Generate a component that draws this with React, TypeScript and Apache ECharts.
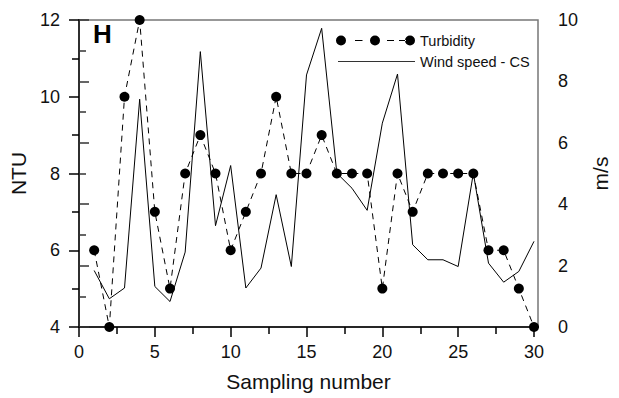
import React, { useEffect, useRef } from "react";
import * as echarts from "echarts";

const samples = [1, 2, 3, 4, 5, 6, 7, 8, 9, 10, 11, 12, 13, 14, 15, 16, 17, 18, 19, 20, 21, 22, 23, 24, 25, 26, 27, 28, 29, 30];
const turbidity = [6, 4, 10, 12, 7, 5, 8, 9, 8, 6, 7, 8, 10, 8, 8, 9, 8, 8, 8, 5, 8, 7, 8, 8, 8, 8, 6, 6, 5, 4];
const windSpeed = [1.84, 0.92, 1.27, 7.42, 1.32, 0.83, 2.44, 8.97, 3.3, 5.26, 1.27, 1.92, 4.31, 1.97, 8.21, 9.73, 5.01, 4.52, 3.8, 6.64, 8.24, 2.68, 2.19, 2.19, 1.97, 5.01, 2.08, 1.46, 1.81, 2.79];

const FONT = "Liberation Sans, Arial, sans-serif";

const circle = (cx: number) => `M${cx - 5},5a5,5 0 1,0 10,0a5,5 0 1,0 -10,0Z`;
const dash = (a: number, b: number) => `M${a},4.4H${b}V5.6H${a}Z`;
const turbIcon = "path://" + circle(5) + dash(19, 26.5) + circle(39) + dash(51, 58) + dash(63, 70) + circle(74);
const windIcon = "path://M0,4.4H74V5.6H0Z";

export default function App() {
  const ref = useRef<HTMLDivElement>(null);
  useEffect(() => {
    if (!ref.current) return;
    const chart = echarts.init(ref.current, undefined, { renderer: "svg" });
    chart.setOption({
      animation: false,
      backgroundColor: "#fff",
      textStyle: { fontFamily: FONT },
      grid: [
        {
          left: 79,
          right: 78,
          top: 20,
          bottom: 71,
          show: true,
          borderColor: "#777",
          borderWidth: 1.5,
          backgroundColor: "transparent",
        },
        {
          left: 79,
          right: 85,
          top: 20,
          bottom: 71,
          show: false,
        },
      ],
      legend: [
        {
          data: [{ name: "Turbidity", icon: turbIcon }],
          left: 336,
          top: 33,
          padding: 0,
          itemWidth: 79,
          itemHeight: 10,
          itemStyle: { color: "#000", borderWidth: 0 },
          textStyle: { fontFamily: FONT, fontSize: 14.5, color: "#111" },
          selectedMode: false,
        },
        {
          data: [{ name: "Wind speed - CS", icon: windIcon }],
          left: 338,
          top: 54,
          padding: 0,
          itemWidth: 77,
          itemHeight: 10,
          itemStyle: { color: "#333", borderWidth: 0 },
          textStyle: { fontFamily: FONT, fontSize: 14.5, color: "#111" },
          selectedMode: false,
        },
      ],
      xAxis: [
        {
          gridIndex: 0,
          type: "value",
          min: 0,
          max: 30.45,
          position: "bottom",
          name: "Sampling number",
          nameLocation: "middle",
          nameGap: 44,
          nameTextStyle: { fontFamily: FONT, fontSize: 21, color: "#111" },
          axisLine: { show: true, lineStyle: { color: "#000", width: 1.5 } },
          axisTick: { show: false },
          axisLabel: { show: false },
          splitLine: { show: false },
        },
        {
          gridIndex: 1,
          type: "value",
          min: 0,
          max: 30,
          interval: 5,
          position: "bottom",
          axisLine: { show: false },
          axisTick: { show: true, length: 10, lineStyle: { color: "#000", width: 1.5 } },
          minorTick: { show: true, splitNumber: 2, length: 7, lineStyle: { color: "#000", width: 1.5 } },
          axisLabel: { show: true, margin: 16, fontFamily: FONT, fontSize: 18, color: "#111" },
          splitLine: { show: false },
          minorSplitLine: { show: false },
        },
      ],
      yAxis: [
        {
          gridIndex: 1,
          type: "value",
          min: 4,
          max: 12,
          interval: 2,
          position: "left",
          name: "NTU",
          nameLocation: "middle",
          nameRotate: 90,
          nameGap: 46,
          nameTextStyle: { fontFamily: FONT, fontSize: 21, color: "#111" },
          axisLine: { show: true, lineStyle: { color: "#000", width: 1.5 } },
          axisTick: { show: true, length: 10, lineStyle: { color: "#000", width: 1.5 } },
          minorTick: { show: true, splitNumber: 2, length: 7, lineStyle: { color: "#000", width: 1.5 } },
          axisLabel: { margin: 19, fontFamily: FONT, fontSize: 18, color: "#111" },
          splitLine: { show: false },
          minorSplitLine: { show: false },
        },
        {
          gridIndex: 0,
          type: "value",
          min: 0,
          max: 10,
          interval: 2,
          position: "right",
          name: "m/s",
          nameLocation: "middle",
          nameRotate: 90,
          nameGap: 52,
          nameTextStyle: { fontFamily: FONT, fontSize: 21, color: "#111" },
          axisLine: { show: true, lineStyle: { color: "#333", width: 1.5 } },
          axisTick: { show: true, length: 10, lineStyle: { color: "#333", width: 1.5 } },
          minorTick: { show: true, splitNumber: 2, length: 7, lineStyle: { color: "#333", width: 1.5 } },
          axisLabel: { margin: 20, fontFamily: FONT, fontSize: 18, color: "#111" },
          splitLine: { show: false },
          minorSplitLine: { show: false },
        },
        {
          gridIndex: 1,
          type: "value",
          min: 0,
          max: 10,
          position: "right",
          show: false,
        },
      ],
      graphic: [
        {
          type: "text",
          left: 93,
          top: 21,
          style: { text: "H", font: `bold 26px ${FONT}`, fill: "#000" },
        },
      ],
      series: [
        {
          name: "Wind speed - CS",
          type: "line",
          xAxisIndex: 1,
          yAxisIndex: 2,
          data: samples.map((s, i) => [s, windSpeed[i]]),
          showSymbol: false,
          symbol: "none",
          color: "#000",
          lineStyle: { color: "#000", width: 1 },
          clip: false,
          z: 2,
        },
        {
          name: "Turbidity",
          type: "line",
          xAxisIndex: 1,
          yAxisIndex: 0,
          data: samples.map((s, i) => [s, turbidity[i]]),
          symbol: "circle",
          symbolSize: 10,
          showSymbol: true,
          color: "#000",
          itemStyle: { color: "#000", borderWidth: 0 },
          lineStyle: { color: "#000", width: 1, type: [6, 5] },
          clip: false,
          z: 3,
        },
      ],
    });
    return () => chart.dispose();
  }, []);
  return (
    <div
      ref={ref}
      style={{ position: "fixed", left: 0, top: 0, width: 619, height: 398, background: "#fff" }}
    />
  );
}
